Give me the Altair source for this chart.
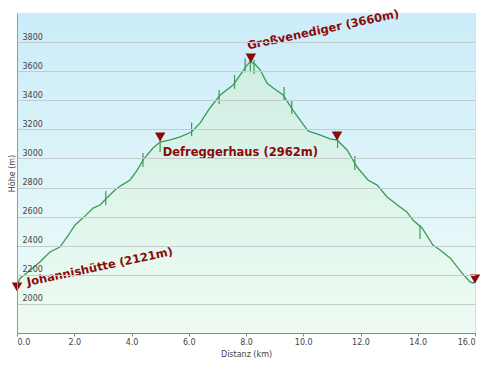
import altair as alt
import pandas as pd

# Elevation profile (distance km, elevation m)
dist = [0.0, 0.1, 0.45, 0.8, 1.15, 1.5, 1.75, 2.03, 2.3, 2.66, 2.9, 3.14, 3.42, 3.66, 3.95,
        4.2, 4.4, 4.75, 5.0, 5.35, 5.7, 6.1, 6.4, 6.74, 7.1, 7.55, 7.8, 8.03, 8.14,
        8.3, 8.5, 8.73, 8.95, 9.3, 9.64, 9.96, 10.17, 10.6, 10.93, 11.18, 11.53, 11.88,
        12.26, 12.58, 12.93, 13.38, 13.62, 13.83, 14.15, 14.53, 14.78, 15.13, 15.55, 15.83, 15.93, 16.0]
elev = [2121, 2175, 2230, 2288, 2357, 2391, 2460, 2543, 2590, 2659, 2680, 2728, 2783, 2817, 2852,
        2920, 2989, 3072, 3113, 3127, 3148, 3182, 3244, 3347, 3436, 3505, 3574, 3640, 3665,
        3650, 3608, 3519, 3484, 3436, 3333, 3244, 3189, 3161, 3134, 3127, 3058, 2941,
        2852, 2817, 2735, 2666, 2632, 2577, 2522, 2405, 2371, 2316, 2212, 2151, 2144, 2150]

# Waypoint ticks on the profile
tick_km = [3.1, 4.4, 5.0, 6.1, 7.06, 7.6, 7.97, 8.15, 8.28, 9.33, 9.6, 11.2, 11.8, 14.08]
tick_m = [2728, 2989, 3092, 3200, 3422, 3526, 3640, 3640, 3630, 3443, 3354, 3120, 2969, 2494]

# Markers (triangles)
mark_km = [0.0, 5.0, 8.17, 11.18, 16.0]
mark_m = [2116, 3148, 3690, 3154, 2171]

# Labels
lab_text = ["Johannishütte (2121m)", "Defreggerhaus (2962m)", "Großvenediger (3660m)"]
lab_km = [2.9, 7.8, 10.7]
lab_m = [2250, 3040, 3880]
lab_angle = [348, 0, 348]

y_ticks = [2000, 2200, 2400, 2600, 2800, 3000, 3200, 3400, 3600, 3800]
x_ticks = [0, 2, 4, 6, 8, 10, 12, 14, 16]

W, H = 458, 320
xs = alt.Scale(domain=[0, 16], nice=False, zero=False)
ys = alt.Scale(domain=[1800, 4000], nice=False, zero=False)

prof = pd.DataFrame({"km": dist, "m": elev})
ticks = pd.DataFrame({"km": tick_km, "top": [v + 48 for v in tick_m], "bot": [v - 48 for v in tick_m]})
marks = pd.DataFrame({"km": mark_km, "m": mark_m})
labs = pd.DataFrame({"t": lab_text, "km": lab_km, "m": lab_m, "a": lab_angle})

bg = alt.Chart(pd.DataFrame({"a": [0]})).mark_rect(
    color=alt.LinearGradient(gradient="linear", x1=0, x2=0, y1=0, y2=1,
                             stops=[alt.GradientStop(offset=0, color="#cbecfa"),
                                    alt.GradientStop(offset=1, color="#f0fcf6")])
).encode(x=alt.value(0), x2=alt.value(W), y=alt.value(0), y2=alt.value(H))

xax = alt.Axis(values=x_ticks, format=".1f", title="Distanz  (km)",
               labelFontSize=8, labelColor="#444", labelFont="DejaVu Sans", labelFlush=True,
               labelOverlap=False,
               tickSize=3, tickColor="#888", domainColor="#888", grid=False,
               titleFontSize=8, titleFontWeight="normal", titleColor="#444", titleFont="DejaVu Sans",
               titlePadding=4, labelPadding=2, zindex=1)
yax = alt.Axis(values=y_ticks, format="d",
               title="Höhe (m)", labelAlign="left", labelPadding=-5, tickSize=0,
               labelBaseline="alphabetic", labelOffset=-3, labelOverlap=False,
               labelFontSize=8, labelColor="#444", labelFont="DejaVu Sans",
               grid=True, gridColor="#c3cccc", gridWidth=1, domainColor="#999",
               titleFontSize=8, titleFontWeight="normal", titleColor="#444", titleFont="DejaVu Sans",
               titlePadding=0.5, zindex=1)

X = alt.X("km:Q", scale=xs, axis=xax)
Y = alt.Y("m:Q", scale=ys, axis=yax)

area = alt.Chart(prof).mark_area(
    color=alt.LinearGradient(gradient="linear", x1=0, x2=0, y1=0, y2=1,
                             stops=[alt.GradientStop(offset=0, color="#cfeedd"),
                                    alt.GradientStop(offset=1, color="#eefbf3")]),
    opacity=0.85
).encode(x=X, y=Y, y2=alt.datum(1800))

line = alt.Chart(prof).mark_line(color="#3a9a58", strokeWidth=1.3).encode(x=X, y=Y)

tk = alt.Chart(ticks).mark_rule(color="#3a9a58", strokeWidth=1.2).encode(
    x=X, y=alt.Y("top:Q", scale=ys, axis=yax), y2="bot:Q")

mk = alt.Chart(marks).mark_point(shape="triangle-down", filled=True, color="#8a0a0a",
                                 opacity=1, size=110).encode(x=X, y=Y)

texts = []
for i in range(len(lab_text)):
    texts.append(alt.Chart(labs.iloc[[i]]).mark_text(
        font="DejaVu Sans", fontWeight="bold", fontSize=11.5, color="#8a0a0a",
        angle=lab_angle[i], align="center", baseline="middle").encode(
        x=X, y=Y, text="t:N"))

chart = alt.layer(bg, area, line, tk, mk, *texts).properties(
    width=W, height=H, padding={"left": 9, "top": 5, "right": 6, "bottom": 25},
    autosize=alt.AutoSizeParams(type="none")
).configure_view(stroke="#c8c8c8", strokeWidth=1).configure(background="white")

chart.save("out.html", embed_options={"renderer": "svg", "actions": False})
